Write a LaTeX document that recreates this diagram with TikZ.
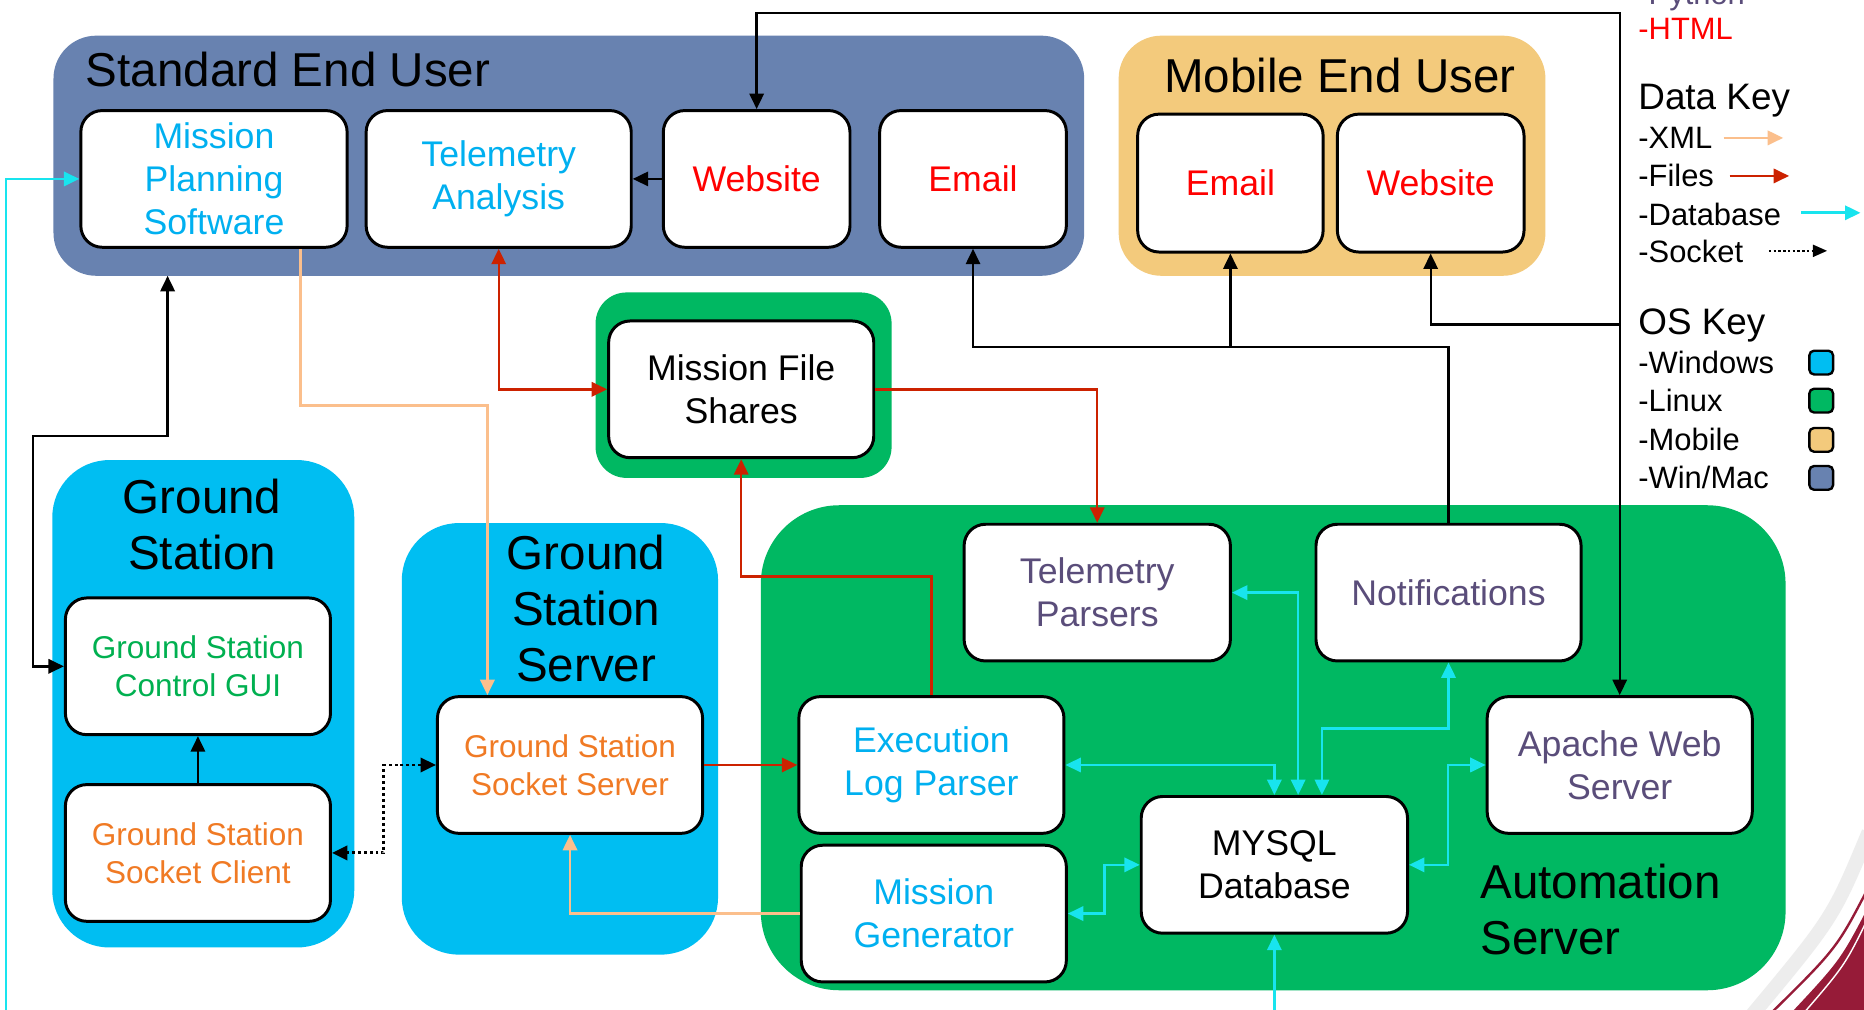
\documentclass[tikz,border=0pt]{standalone}
\usepackage{fontspec}
\setmainfont{Liberation Sans}
\usetikzlibrary{arrows.meta}
\definecolor{stdblue}{HTML}{6882B0}
\definecolor{mobile}{HTML}{F3CA7C}
\definecolor{wincyan}{HTML}{00BEF2}
\definecolor{lingreen}{HTML}{00B862}
\definecolor{tcyan}{HTML}{00B0F0}
\definecolor{tgreen}{HTML}{00B050}
\definecolor{torange}{HTML}{F07A24}
\definecolor{tpurple}{HTML}{5A4D7A}
\definecolor{tred}{HTML}{FF0000}
\definecolor{filesred}{HTML}{CC2200}
\definecolor{xmlorange}{HTML}{FBBF8C}
\definecolor{dbcyan}{HTML}{18E4EE}
\definecolor{maroon}{HTML}{961B38}
\newcommand\fBox{\fontsize{30}{36}\selectfont}
\newcommand\fSmall{\fontsize{26.5}{32}\selectfont}
\newcommand\fTitle{\fontsize{40}{47}\selectfont}
\newcommand\fLeg{\fontsize{26}{30}\selectfont}
\newcommand\fLegHead{\fontsize{31}{36}\selectfont}
\begin{document}
\begin{tikzpicture}[x=1pt,y=-1pt,
  >={Triangle[length=13pt,width=12pt]},
  grp/.style={inner sep=0pt, outer sep=0pt},
  box/.style={draw=black, line width=2.5pt, fill=white, rounded corners=18pt,
    minimum height=115pt, minimum width=223pt, align=center, inner sep=0pt, font=\fBox},
  sbox/.style={box, font=\fSmall},
  title/.style={align=center, inner sep=0pt, font=\fTitle},
  blk/.style={draw=black, line width=2pt},
  xml/.style={draw=xmlorange, line width=2.2pt},
  files/.style={draw=filesred, line width=2pt},
  db/.style={draw=dbcyan, line width=2.2pt},
  sock/.style={draw=black, line width=2.5pt, dash pattern=on 2.5pt off 2.5pt},
  leg/.style={anchor=base west, inner sep=0pt, font=\fLeg},
  leghead/.style={anchor=base west, inner sep=0pt, font=\fLegHead},
  oskey/.style={draw=black, line width=2pt, rounded corners=4pt, minimum size=20pt, inner sep=0pt}
]
\useasboundingbox (0,0) rectangle (1568,849);
\fill[white] (0,0) rectangle (1568,849);

% bottom-right decoration
\draw[line width=12pt, black!7] (1572,700) .. controls (1542,772) .. (1472,856);
\draw[line width=2pt, maroon] (1572,746) .. controls (1545,798) .. (1486,856);
\fill[maroon] (1572,762) .. controls (1548,808) .. (1503,856) -- (1572,856) -- cycle;
\draw[line width=1.2pt, white] (1572,771) .. controls (1552,812) .. (1514,856);

% groups
\node[grp, fill=stdblue, minimum width=867pt, minimum height=202pt, rounded corners=36pt] (std) at (478.5,131) {};
\node[grp, fill=mobile, minimum width=359pt, minimum height=202pt, rounded corners=36pt] (mob) at (1120.5,131) {};
\node[grp, fill=lingreen, minimum width=249pt, minimum height=156pt, rounded corners=26pt] (mfsg) at (625.5,324) {};
\node[grp, fill=wincyan, minimum width=254pt, minimum height=410pt, rounded corners=48pt] (gs) at (171,592) {};
\node[grp, fill=wincyan, minimum width=266pt, minimum height=363pt, rounded corners=48pt] (gss) at (471,621.5) {};
\node[grp, fill=lingreen, minimum width=862pt, minimum height=408pt, rounded corners=66pt] (auto) at (1071,629) {};

% group titles
\node[title, anchor=base west] (stdt) at (72,72.5) {Standard End User};
\node[title, anchor=base] (mobt) at (1127,78) {Mobile End User};
\node[title] (gst) at (170,441) {Ground\\Station};
\node[title] (gsst) at (493,512) {Ground\\Station\\Server};
\node[title, align=left, anchor=west] (autot) at (1245,765) {Automation\\Server};

% boxes
\node[box, minimum width=224pt, text=tcyan] (mps) at (180,150.5) {Mission\\Planning\\Software};
\node[box, text=tcyan] (ta) at (419.5,150.5) {\raisebox{-2pt}{\parbox{200pt}{\centering Telemetry\\Analysis}}};
\node[box, minimum width=157pt, text=tred] (webS) at (636.5,150.5) {Website};
\node[box, minimum width=157pt, text=tred] (emailS) at (818.5,150.5) {Email};
\node[box, minimum width=156pt, minimum height=116pt, text=tred] (emailM) at (1035,154) {Email};
\node[box, minimum width=157pt, minimum height=116pt, text=tred] (webM) at (1203.5,154) {Website};
\node[box, text=black] (mfs) at (623.5,327.5) {Mission File\\Shares};
\node[sbox, text=tgreen] (gui) at (166.5,560.5) {Ground Station\\Control GUI};
\node[sbox, text=torange] (client) at (166.5,717.5) {Ground Station\\Socket Client};
\node[sbox, text=torange] (sserver) at (479.5,643.5) {Ground Station\\Socket Server};
\node[box, minimum width=224pt, text=tpurple] (tp) at (923,498.5) {\raisebox{-2pt}{\parbox{200pt}{\centering Telemetry\\Parsers}}};
\node[box, text=tpurple] (notif) at (1218.5,498.5) {Notifications};
\node[box, text=tcyan] (elp) at (783.5,643.5) {\raisebox{-2pt}{\parbox{200pt}{\centering Execution\\Log Parser}}};
\node[box, text=tcyan] (mg) at (785.5,768.5) {Mission\\Generator};
\node[box, minimum width=224pt, text=black] (mysql) at (1072,727.5) {MYSQL\\Database};
\node[box, text=tpurple] (apache) at (1362.5,643.5) {Apache Web\\Server};

% helper coordinates
\coordinate (ytop) at (0,11);
\coordinate (ymw) at (0,273);
\coordinate (ynot) at (0,292);
\coordinate (k1) at (28,367);
\coordinate (k2) at (141,367);
\coordinate (xs) at (323,0);
\coordinate (xo1) at (253,0);
\coordinate (xx) at (410,0);
\coordinate (yx) at (0,341);
\coordinate (yr) at (0,485);
\coordinate (c14) at (5,860);
\coordinate (c15) at (1072,860);
\coordinate (x16) at (1092,0);
\coordinate (x18) at (1112,0);
\coordinate (y18) at (0,613);
\coordinate (x19) at (929,0);
\coordinate (x20) at (1218,0);

% black connectors
\draw[blk,<->] (webS.north) -- (webS.north |- ytop) -| (apache.north);
\draw[blk,->] (apache.north |- ymw) -| (webM.south);
\draw[blk,->] (notif.north) -- (notif.north |- ynot) -| (emailS.south);
\draw[blk,->] (emailM.south |- ynot) -- (emailM.south);
\draw[blk,->] (webS.west) -- (ta.east);
\draw[blk,<->] (gui.west) -| (k1) -- (k2) -- (k2 |- std.south);
\draw[blk,->] (client.north) -- (gui.south);
\draw[sock,<->] (sserver.west) -- (sserver.west -| xs) |- (client.east);

% xml
\draw[xml,->] (mps.south -| xo1) |- (xx |- yx) -- (sserver.north -| xx);
\draw[xml,->] (mg.west) -| (sserver.south);

% files
\draw[files,<->] (ta.south) |- (mfs.west);
\draw[files,->] (mfs.east) -| (tp.north);
\draw[files,->] (elp.north) |- (mfs.south |- yr) -- (mfs.south);
\draw[files,->] (sserver.east) -- (elp.west);

% database
\draw[db,->] (c14) |- (mps.west);
\draw[db,->] (c15) -- (mysql.south);
\draw[db,<->] (tp.east) -| (mysql.north -| x16);
\draw[db,<->] (elp.east) -| (mysql.north);
\draw[db,<->] (notif.south) |- (x18 |- y18) -- (mysql.north -| x18);
\draw[db,<->] (mg.east) -| (x19 |- mysql.west) -- (mysql.west);
\draw[db,<->] (mysql.east) -| (x20 |- apache.west) -- (apache.west);

% legend
\node[leg, text=tpurple] (lpy) at (1378,4) {-Python};
\node[leg, text=tred] (lhtml) at (1378,33) {-HTML};
\node[leghead] (ldk) at (1378,92) {Data Key};
\node[leg] (lxml) at (1378,125) {-XML};
\node[leg] (lfiles) at (1378,157) {-Files};
\node[leg] (ldb) at (1378,190) {-Database};
\node[leg] (lsock) at (1378,221) {-Socket};
\node[leghead] (losk) at (1378,281) {OS Key};
\node[leg] (lwin) at (1378,314) {-Windows};
\node[leg] (llin) at (1378,346) {-Linux};
\node[leg] (lmob) at (1378,379) {-Mobile};
\node[leg] (lwm) at (1378,411) {-Win/Mac};

\coordinate (a1) at (1450,116); \coordinate (a2) at (1500,116);
\coordinate (b1) at (1455,148); \coordinate (b2) at (1505,148);
\coordinate (d1) at (1515,179); \coordinate (d2) at (1565,179);
\coordinate (e1) at (1488,211); \coordinate (e2) at (1537,211);
\draw[xml,->] (a1) -- (a2);
\draw[files,->] (b1) -- (b2);
\draw[db,->] (d1) -- (d2);
\draw[black, line width=2pt, dash pattern=on 2pt off 2pt, -{Triangle[length=12pt,width=10pt]}] (e1) -- (e2);

\node[oskey, fill=wincyan] (sqw) at (1532,305) {};
\node[oskey, fill=lingreen] (sql) at (1532,337) {};
\node[oskey, fill=mobile] (sqm) at (1532,370) {};
\node[oskey, fill=stdblue] (sqwm) at (1532,402) {};
\end{tikzpicture}
\end{document}
